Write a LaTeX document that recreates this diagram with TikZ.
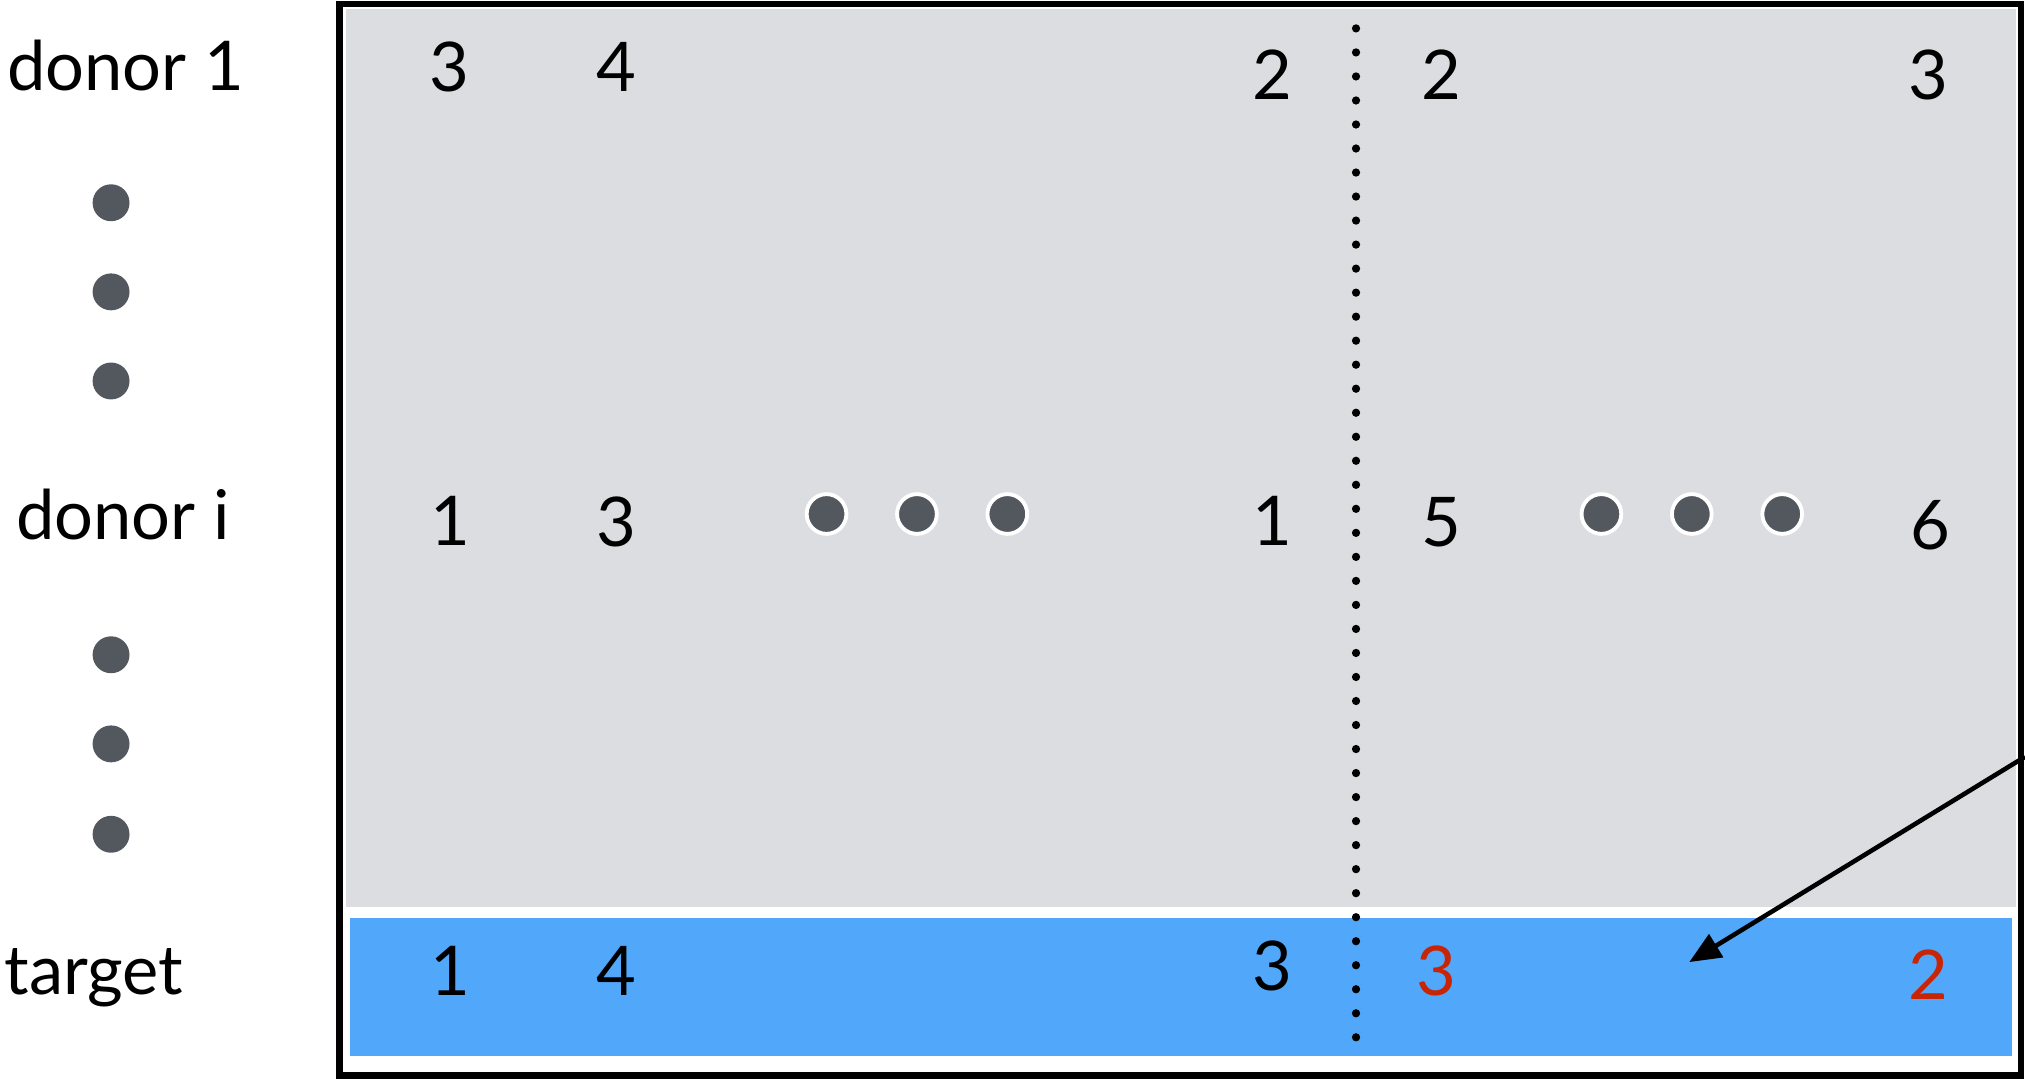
\documentclass[tikz,border=0pt]{standalone}
\usepackage{fontspec}
\setmainfont{Lato}
\usetikzlibrary{arrows.meta}
\definecolor{cellgray}{HTML}{DCDDE0}
\definecolor{rowblue}{HTML}{51A7F9}
\definecolor{dotgray}{HTML}{53575E}
\definecolor{hired}{HTML}{C82506}
\begin{document}
\begin{tikzpicture}[x=0.012915cm,y=-0.012915cm,
  lbl/.style={font=\fontsize{19.5}{22}\selectfont, inner sep=0, anchor=base west},
  num/.style={font=\fontsize{19.5}{22}\selectfont, inner sep=0, anchor=center},
  rednum/.style={num, text=hired},
  sidedot/.style={circle, fill=dotgray, inner sep=0, minimum size=10.5pt},
  rowdot/.style={circle, fill=dotgray, draw=white, line width=1.1pt, inner sep=0, minimum size=11.3pt},
  frame/.style={draw=black, line width=1.9pt},
  conn/.style={draw=black, line width=1.3pt, -{Triangle[length=9pt,width=7.5pt]}}]
\useasboundingbox (0,0) rectangle (1568,836);
% panels
\fill[cellgray] (268,7) rectangle (1561,702);
\fill[rowblue] (271,711) rectangle (1558,818);
\draw[frame] (263,3) rectangle (1565,833);
% dotted separator
\foreach \k in {0,...,42} {
  \fill (1050,22+\k*18.6) circle (3.2);
}
% left labels
\node[lbl] (d1) at (5,70) {donor 1};
\node[lbl] (di) at (12,418) {donor i};
\node[lbl] (tg) at (3,770) {target};
\node[sidedot] (s1) at (86,157) {};
\node[sidedot] (s2) at (86,226) {};
\node[sidedot] (s3) at (86,295) {};
\node[sidedot] (s4) at (86,507) {};
\node[sidedot] (s5) at (86,576) {};
\node[sidedot] (s6) at (86,646) {};
% row donor 1
\node[num] (a1) at (348,52) {3};
\node[num] (a2) at (477,52) {4};
\node[num] (a3) at (985,58) {2};
\node[num] (a4) at (1116,58) {2};
\node[num] (a5) at (1493,58) {3};
% row donor i
\node[num] (b1) at (349,403) {1};
\node[num] (b2) at (477,404) {3};
\node[rowdot] (bd1) at (640,398) {};
\node[rowdot] (bd2) at (710,398) {};
\node[rowdot] (bd3) at (780,398) {};
\node[num] (b3) at (985,403) {1};
\node[num] (b4) at (1116,404) {5};
\node[rowdot] (bd4) at (1240,398) {};
\node[rowdot] (bd5) at (1310,398) {};
\node[rowdot] (bd6) at (1380,398) {};
\node[num] (b5) at (1495,407) {6};
% target row
\node[num] (c1) at (349,752) {1};
\node[num] (c2) at (477,752) {4};
\node[num] (c3) at (985,748) {3};
\node[rednum] (c4) at (1112,752) {3};
\node[rednum] (c5) at (1493,755) {2};
% arrow
\coordinate (arrS) at (1568,586);
\coordinate (arrE) at (1308,745);
\draw[conn] (arrS) -- (arrE);
\end{tikzpicture}
\end{document}
